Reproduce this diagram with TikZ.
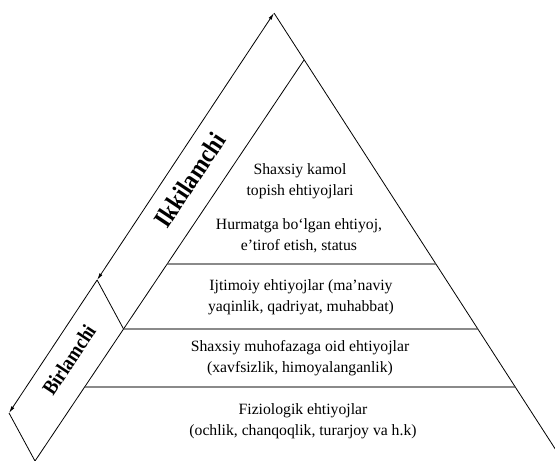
\documentclass[tikz,border=0pt]{standalone}
\usepackage{fontspec}
\setmainfont{Liberation Serif}
\usetikzlibrary{arrows.meta,calc}
\begin{document}
\begin{tikzpicture}[x=1pt,y=-1pt,line width=0.8pt,
  edge/.style={draw=black},
  level/.style={draw=black!70,line width=1.1pt},
  body/.style={align=center,font=\fontsize{15.7}{20.5}\selectfont,inner sep=0pt},
  side/.style={font=\bfseries,rotate=56.5,inner sep=0pt,xscale=0.88},
  tipA/.style={{Latex[length=7pt,width=3.5pt]}-{Latex[length=7pt,width=3.5pt]}},
  tipB/.style={-{Latex[length=7pt,width=3.5pt]}}]
\useasboundingbox (0,0) rectangle (555,461);
\clip (0,0) rectangle (555,461);
% main points
\coordinate (A) at (274,13);   % outer apex
\coordinate (R) at (563,461);  % right bottom
\coordinate (P) at (304,60);   % pyramid apex
\coordinate (B) at (35,461);   % inner bottom
\coordinate (O) at (9,413);    % outer bottom
\coordinate (J) at ($(A)!0.6675!(O)$); % junction on outer line
\coordinate (K) at ($(P)!0.6708!(B)$); % divider on inner line
% level lines
\coordinate (L1) at ($(P)!0.5087!(B)$);
\coordinate (M1) at ($(A)!0.5603!(R)$);
\coordinate (L2) at (K);
\coordinate (M2) at ($(A)!0.7054!(R)$);
\coordinate (L3) at ($(P)!0.8155!(B)$);
\coordinate (M3) at ($(A)!0.8348!(R)$);
% outline
\draw[edge] (A) -- (R);
\draw[edge] (P) -- (B);
\draw[edge] (O) -- (B);
\draw[edge] (J) -- (K);
\draw[edge,tipA] (J) -- (A);
\draw[edge,tipB] (J) -- (O);
\draw[level] (L1) -- (M1);
\draw[level] (L2) -- (M2);
\draw[level] (L3) -- (M3);
% labels
\node[side,font=\bfseries\fontsize{26}{26}\selectfont] (ikk) at (190,180) {Ikkilamchi};
\node[side,font=\bfseries\fontsize{21}{21}\selectfont] (bir) at (69,360) {Birlamchi};
\node[body] (t1) at (300,181) {Shaxsiy kamol\\topish ehtiyojlari};
\node[body] (t2) at (299,236) {Hurmatga bo‘lgan ehtiyoj,\\e’tirof etish, status};
\node[body] (t3) at (301,297) {Ijtimoiy ehtiyojlar (ma’naviy\\yaqinlik, qadriyat, muhabbat)};
\node[body] (t4) at (300,358) {Shaxsiy muhofazaga oid ehtiyojlar\\(xavfsizlik, himoyalanganlik)};
\node[body] (t5) at (303,421) {Fiziologik ehtiyojlar\\(ochlik, chanqoqlik, turarjoy va h.k)};
\end{tikzpicture}
\end{document}
